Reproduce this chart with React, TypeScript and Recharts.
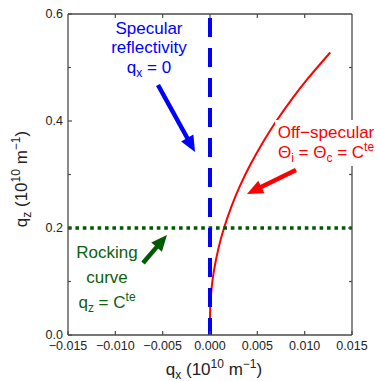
import React from 'react';
import { LineChart, Line, XAxis, YAxis } from 'recharts';

// off-specular curve (theta_i fixed)
const offSpecQz = [0.03, 0.06, 0.09, 0.12, 0.16, 0.2, 0.24, 0.28, 0.32, 0.36, 0.4, 0.44, 0.48, 0.528];
const offSpecQx = [0, 0.000046, 0.000184, 0.000415, 0.000865, 0.00148, 0.00226, 0.0032, 0.00431, 0.00558, 0.00701, 0.00861, 0.01037, 0.0127];

// specular line qx = 0
const specularQx = 0;
const specularQz = [0.6, 0];

// rocking curve qz = const
const rockingQz = 0.2;
const rockingQx = [-0.015, 0.015];

const xTicks = [-0.015, -0.01, -0.005, 0, 0.005, 0.01, 0.015];
const yTicks = [0, 0.1, 0.2, 0.3, 0.4, 0.5, 0.6];
const yLabelled = [0, 0.2, 0.4, 0.6];

const offSpecData = offSpecQz.map((qz, i) => ({ qx: offSpecQx[i], qz }));
const specularData = specularQz.map((qz) => ({ qx: specularQx, qz }));
const rockingData = rockingQx.map((qx) => ({ qx, qz: rockingQz }));

const AXIS = '#4a4a4a';
const FONT = '"Liberation Sans", Arial, sans-serif';

const fmtX = (v: number) => (v < -1e-9 ? '\u2212' + Math.abs(v).toFixed(3) : Math.abs(v).toFixed(3));
const isLabelled = (v: number) => yLabelled.some((t) => Math.abs(t - v) < 1e-9);

const makeTick = (side: 'left' | 'right' | 'top' | 'bottom') => (props: any) => {
  const { x, y, payload } = props;
  const v = payload.value as number;
  if (side === 'bottom') {
    return (
      <g>
        <line x1={x} x2={x} y1={y} y2={y - 4} stroke={AXIS} strokeWidth={1.2} />
        <text x={x} y={y + 15} textAnchor="middle" fontSize={12.5} fill="#222" fontFamily={FONT}>{fmtX(v)}</text>
      </g>
    );
  }
  if (side === 'top') {
    if (v <= -0.015 || v >= 0.015) return <g />;
    return <line x1={x} x2={x} y1={y} y2={y + 4} stroke={AXIS} strokeWidth={1.2} />;
  }
  const major = isLabelled(v);
  const len = major ? 4 : 3;
  if (side === 'right') {
    if (v <= 0 || v >= 0.6) return <g />;
    return <line x1={x} x2={x - len} y1={y} y2={y} stroke={AXIS} strokeWidth={1.2} />;
  }
  return (
    <g>
      <line x1={x} x2={x + len} y1={y} y2={y} stroke={AXIS} strokeWidth={1.2} />
      {major && (
        <text x={x - 5} y={y + 4} textAnchor="end" fontSize={12.5} fill="#222" fontFamily={FONT}>{v.toFixed(1)}</text>
      )}
    </g>
  );
};

const Arrow = ({ x1, y1, x2, y2, color, w = 4.5, head = 16, hw = 7 }: any) => {
  const dx = x2 - x1, dy = y2 - y1;
  const L = Math.hypot(dx, dy);
  const ux = dx / L, uy = dy / L;
  const bx = x2 - ux * head, by = y2 - uy * head;
  const px = -uy, py = ux;
  return (
    <g>
      <line x1={x1} y1={y1} x2={bx + ux * 2} y2={by + uy * 2} stroke={color} strokeWidth={w} />
      <polygon points={`${x2},${y2} ${bx + px * hw},${by + py * hw} ${bx - px * hw},${by - py * hw}`} fill={color} />
    </g>
  );
};

const App: React.FC = () => {
  return (
    <div style={{ position: 'absolute', left: 0, top: 0, width: 377, height: 381, background: '#fff', fontFamily: FONT }}>
      <LineChart width={377} height={381} margin={{ top: 0, right: 0, bottom: 0, left: 8 }}>
        <XAxis xAxisId="b" dataKey="qx" type="number" domain={[-0.015, 0.015]} ticks={xTicks} interval={0}
          allowDataOverflow height={46} tickSize={0} tickMargin={0} tickLine={false} stroke={AXIS} strokeWidth={1.3}
          tick={makeTick('bottom')} />
        <XAxis xAxisId="t" orientation="top" dataKey="qx" type="number" domain={[-0.015, 0.015]} ticks={xTicks} interval={0}
          allowDataOverflow height={14} tickSize={0} tickMargin={0} tickLine={false} stroke={AXIS} strokeWidth={1.3}
          tick={makeTick('top')} />
        <YAxis yAxisId="l" type="number" domain={[0, 0.6]} ticks={yTicks} interval={0} allowDataOverflow width={60}
          tickSize={0} tickMargin={0} tickLine={false} stroke={AXIS} strokeWidth={1.3} tick={makeTick('left')} />
        <YAxis yAxisId="r" orientation="right" type="number" domain={[0, 0.6]} ticks={yTicks} interval={0} allowDataOverflow width={25}
          tickSize={0} tickMargin={0} tickLine={false} stroke={AXIS} strokeWidth={1.3} tick={makeTick('right')} />
        <Line xAxisId="b" yAxisId="l" data={offSpecData} dataKey="qz" type="natural" stroke="#ff0000" strokeWidth={2}
          dot={false} activeDot={false} isAnimationActive={false} />
        <Line xAxisId="b" yAxisId="l" data={rockingData} dataKey="qz" type="linear" stroke="#005a00" strokeWidth={3.5}
          strokeDasharray="3.6 3.8" dot={false} activeDot={false} isAnimationActive={false} />
        <Line xAxisId="b" yAxisId="l" data={specularData} dataKey="qz" type="linear" stroke="#0000ff" strokeWidth={4}
          strokeDasharray="19 11" strokeDashoffset={-4} dot={false} activeDot={false} isAnimationActive={false} />
      </LineChart>

      <svg width={377} height={381} style={{ position: 'absolute', left: 0, top: 0, pointerEvents: 'none' }} fontFamily={FONT}>
        {/* axis titles */}
        <text x={214} y={375} textAnchor="middle" fontSize={17} fill="#222">
          <tspan>q</tspan><tspan dy={4} fontSize={12}>x</tspan><tspan dy={-4}> (10</tspan>
          <tspan dy={-7} fontSize={12}>10</tspan><tspan dy={7}> m</tspan>
          <tspan dy={-7} fontSize={12}>{'\u22121'}</tspan><tspan dy={7}>)</tspan>
        </text>
        <text transform="translate(27,179) rotate(-90)" textAnchor="middle" fontSize={17} fill="#222">
          <tspan>q</tspan><tspan dy={4} fontSize={12}>z</tspan><tspan dy={-4}> (10</tspan>
          <tspan dy={-7} fontSize={12}>10</tspan><tspan dy={7}> m</tspan>
          <tspan dy={-7} fontSize={12}>{'\u22121'}</tspan><tspan dy={7}>)</tspan>
        </text>

        {/* specular */}
        <g fill="#0000ff" fontSize={17} textAnchor="middle">
          <text x={149} y={34}>Specular</text>
          <text x={149} y={53}>reflectivity</text>
          <text x={149} y={73}>
            <tspan>q</tspan><tspan dy={4} fontSize={12}>x</tspan><tspan dy={-4}> = 0</tspan>
          </text>
        </g>
        <Arrow x1={158} y1={85} x2={195} y2={152} color="#0000ff" />

        {/* off-specular */}
        <rect x={275} y={120} width={102} height={46} fill="#fff" />
        <g fill="#ff0000" fontSize={17} textAnchor="middle">
          <text x={326} y={138}>Off{'\u2212'}specular</text>
          <text x={326} y={158}>
            <tspan>{'\u0398'}</tspan><tspan dy={4} fontSize={12}>i</tspan><tspan dy={-4}> = {'\u0398'}</tspan>
            <tspan dy={4} fontSize={12}>c</tspan><tspan dy={-4}> = C</tspan>
            <tspan dy={-7} fontSize={12}>te</tspan>
          </text>
        </g>
        <Arrow x1={296} y1={170} x2={247} y2={194} color="#ff0000" />

        {/* rocking curve */}
        <g fill="#0b620b" fontSize={17} textAnchor="middle">
          <text x={107} y={258}>Rocking</text>
          <text x={107} y={283}>curve</text>
          <text x={107} y={308}>
            <tspan>q</tspan><tspan dy={4} fontSize={12}>z</tspan><tspan dy={-4}> = C</tspan>
            <tspan dy={-7} fontSize={12}>te</tspan>
          </text>
        </g>
        <Arrow x1={143} y1={263} x2={167} y2={235} color="#005a00" />
      </svg>
    </div>
  );
};

export default App;
